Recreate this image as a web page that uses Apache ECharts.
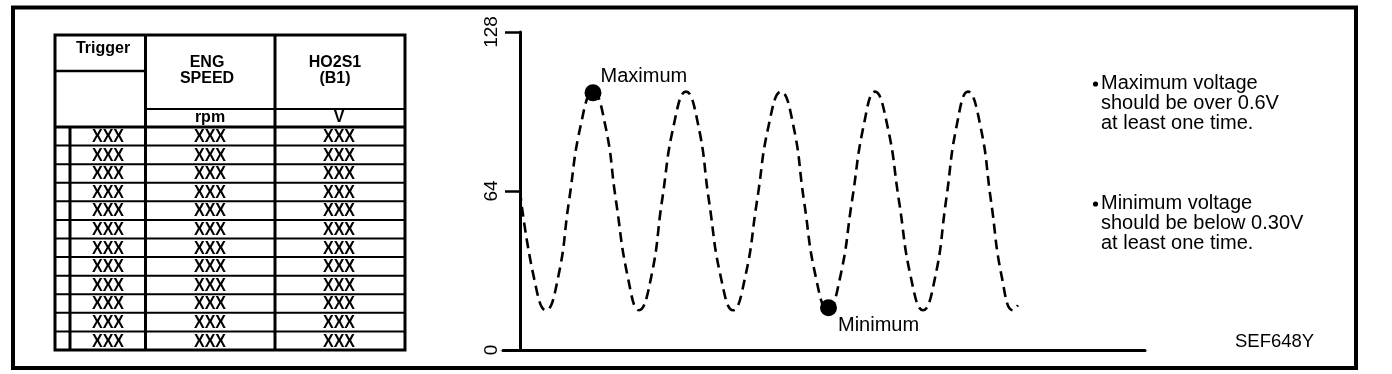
<!DOCTYPE html>
<html>
<head>
<meta charset="utf-8">
<script src="https://cdn.jsdelivr.net/npm/echarts@6/dist/echarts.min.js"></script>
<style>
html,body{margin:0;padding:0;background:#fff;}
#chart{width:1392px;height:374px;}
</style>
</head>
<body>
<div id="chart"></div>
<script>
// ---------- data ----------
const yTicks = [0, 64, 128];
const waveX = [0, 14, 26, 38, 49, 61, 73, 85, 96, 108, 119, 131, 142, 154, 166, 178, 189, 201, 213, 225, 237, 249, 261, 273, 284, 296, 308, 320, 332, 344, 355, 367, 379, 391, 403, 415, 426, 437, 448, 460, 471, 482, 493, 498];
const waveY = [64, 29, 16, 29, 60, 91, 104, 91, 60, 29, 16, 29, 60, 91, 104, 91, 60, 29, 16, 29, 60, 91, 104, 91, 60, 29, 16, 29, 60, 91, 104, 91, 60, 29, 16, 29, 60, 91, 104, 91, 60, 29, 16, 18];
const markNames = ['Maximum', 'Minimum'];
const markX = [73, 308.5];
const markY = [103.5, 17];
const tableHeaders = ['Trigger', 'ENG\nSPEED', 'HO2S1\n(B1)'];
const tableUnits = ['', 'rpm', 'V'];
const tableRows = [
  ['XXX', 'XXX', 'XXX'],
  ['XXX', 'XXX', 'XXX'],
  ['XXX', 'XXX', 'XXX'],
  ['XXX', 'XXX', 'XXX'],
  ['XXX', 'XXX', 'XXX'],
  ['XXX', 'XXX', 'XXX'],
  ['XXX', 'XXX', 'XXX'],
  ['XXX', 'XXX', 'XXX'],
  ['XXX', 'XXX', 'XXX'],
  ['XXX', 'XXX', 'XXX'],
  ['XXX', 'XXX', 'XXX'],
  ['XXX', 'XXX', 'XXX']
];
const notes = [
  'Maximum voltage\nshould be over 0.6V\nat least one time.',
  'Minimum voltage\nshould be below 0.30V\nat least one time.'
];
const figureCode = 'SEF648Y';

// ---------- layout ----------
const FONT = '"Liberation Sans", Arial, Helvetica, sans-serif';
const T = {left: 55, right: 405, top: 35, bottom: 350, col1: 145.5, col2: 275, sub: 70, trigLine: 71, hdrLine: 109, unitLine: 127};
const rowH = (T.bottom - T.unitLine) / tableRows.length;
const colCenters = [108, 210, 339];
const hdrCenters = [103, 207, 335];

const g = [];
function line(x1, y1, x2, y2, w) {
  g.push({type: 'line', shape: {x1, y1, x2, y2}, style: {stroke: '#000', lineWidth: w}, silent: true});
}
function text(x, y, s, size, bold, align, vAlign, lh, sy) {
  g.push({type: 'text', x, y, scaleY: sy || 1, silent: true, style: {text: s, fill: '#000', font: (bold ? 'bold ' : '') + size + 'px ' + FONT, textAlign: align || 'center', textVerticalAlign: vAlign || 'middle', lineHeight: lh || size + 1}});
}
// outer frame
g.push({type: 'rect', shape: {x: 13, y: 7.5, width: 1343, height: 360.5}, style: {fill: 'none', stroke: '#000', lineWidth: 4}, silent: true});
// table frame
g.push({type: 'rect', shape: {x: T.left, y: T.top, width: T.right - T.left, height: T.bottom - T.top}, style: {fill: 'none', stroke: '#000', lineWidth: 3}, silent: true});
line(T.col1, T.top, T.col1, T.bottom, 3);
line(T.col2, T.top, T.col2, T.bottom, 3);
line(T.left, T.trigLine, T.col1, T.trigLine, 2.5);
line(T.col1, T.hdrLine, T.right, T.hdrLine, 2);
line(T.left, T.unitLine, T.right, T.unitLine, 3);
line(T.sub, T.unitLine, T.sub, T.bottom, 3);
for (let k = 1; k < tableRows.length; k++) {
  const y = T.unitLine + k * rowH;
  line(T.left, y, T.right, y, 2);
}
text(hdrCenters[0], 49, tableHeaders[0], 16, true);
text(hdrCenters[1], 70.5, tableHeaders[1], 16, true, 'center', 'middle', 16);
text(hdrCenters[2], 70.5, tableHeaders[2], 16, true, 'center', 'middle', 16);
text(colCenters[1], 118, tableUnits[1], 16, true);
text(colCenters[2], 118, tableUnits[2], 16, true);
tableRows.forEach((r, k) => {
  const y = T.unitLine + (k + 0.5) * rowH + 1;
  r.forEach((s, c) => text(colCenters[c], y, s, 16, true, 'center', 'middle', 17, 1.1));
});
// notes
const noteTops = [73, 193];
notes.forEach((s, i) => {
  g.push({type: 'circle', shape: {cx: 1095.5, cy: noteTops[i] + 11, r: 2.6}, style: {fill: '#000'}, silent: true});
  text(1101, noteTops[i], s, 20, false, 'left', 'top', 20);
});
text(1235, 342, figureCode, 18.5, false, 'left', 'middle');

const chart = echarts.init(document.getElementById('chart'), null, {renderer: 'canvas'});
chart.setOption({
  animation: false,
  backgroundColor: '#fff',
  grid: {left: 503, right: 247, top: 32, bottom: 24},
  xAxis: {
    type: 'value', min: -17, max: 625,
    axisLine: {show: true, onZero: true, lineStyle: {color: '#000', width: 3}},
    axisTick: {show: false}, axisLabel: {show: false}, splitLine: {show: false}
  },
  yAxis: {
    type: 'value', min: yTicks[0], max: yTicks[yTicks.length - 1], interval: yTicks[1] - yTicks[0],
    axisLine: {show: true, onZero: true, lineStyle: {color: '#000', width: 3}},
    axisTick: {show: true, length: 15, lineStyle: {color: '#000', width: 2.5}},
    axisLabel: {show: true, rotate: 90, margin: 2, color: '#000', fontSize: 19, fontFamily: FONT},
    splitLine: {show: false}
  },
  series: [
    {
      type: 'line',
      data: waveX.map((x, i) => [x, waveY[i]]),
      smooth: true,
      showSymbol: false,
      lineStyle: {color: '#000', width: 2.6, type: [10, 6]},
      z: 2
    },
    {
      type: 'scatter',
      data: markX.map((x, i) => ({value: [x, markY[i]], name: markNames[i],
        label: {position: i === 0 ? [16, -8] : [18, 26]}})),
      symbol: 'circle',
      symbolSize: 17,
      itemStyle: {color: '#000', opacity: 1},
      label: {show: true, formatter: p => p.name, color: '#000', opacity: 1, fontSize: 20, fontFamily: FONT, align: 'left', verticalAlign: 'middle'},
      z: 3
    }
  ],
  graphic: g
});
</script>
</body>
</html>
